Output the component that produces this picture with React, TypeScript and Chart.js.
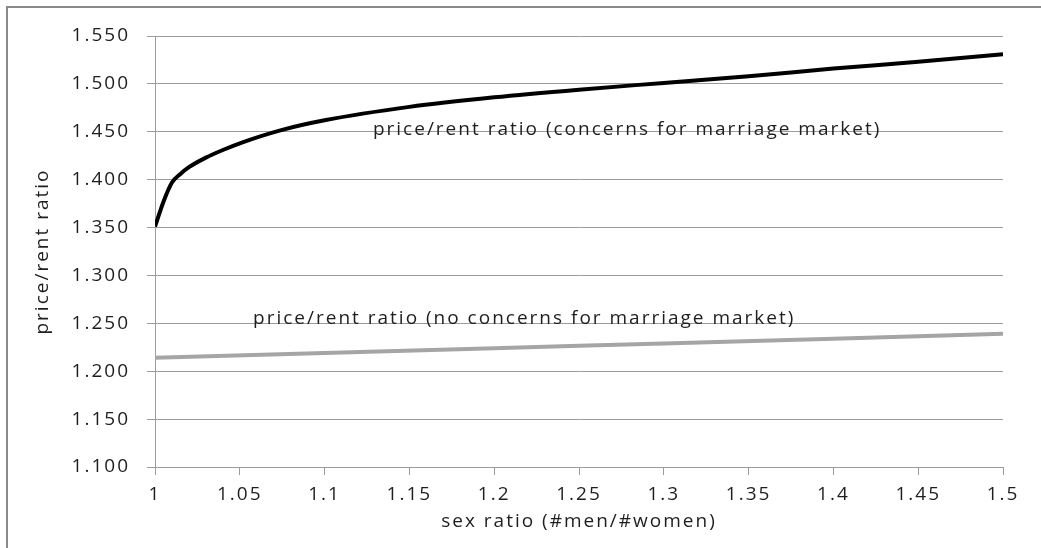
import React, { useEffect, useRef } from "react";
import { Chart, registerables } from "chart.js";

Chart.register(...registerables);

// Sex ratio (#men/#women) and price/rent ratio, with concerns for the marriage market
const concernsX = [1.0, 1.005, 1.01, 1.015, 1.02, 1.03, 1.04, 1.05, 1.075, 1.1, 1.15, 1.2, 1.25, 1.3, 1.35, 1.4, 1.45, 1.5];
const concernsY = [1.351, 1.377, 1.397, 1.406, 1.413, 1.423, 1.431, 1.438, 1.452, 1.462, 1.476, 1.486, 1.494, 1.501, 1.508, 1.516, 1.523, 1.531];

// without concerns for the marriage market
const noConcernsX = [1.0, 1.1, 1.2, 1.3, 1.4, 1.5];
const noConcernsY = [1.214, 1.219, 1.224, 1.229, 1.234, 1.239];

const seriesLabels = [
  "price/rent ratio (concerns for marriage market)",
  "price/rent ratio (no concerns for marriage market)",
];
// annotation anchors (data coordinates: left edge x, baseline y)
const labelAnchorX = [1.1285, 1.0578];
const labelAnchorY = [1.4469, 1.249];

const xTitle = "sex ratio (#men/#women)";
const yTitle = "price/rent ratio";
const xMin = 1.0, xMax = 1.5, xStep = 0.05;
const yMin = 1.1, yMax = 1.55, yStep = 0.05;

const FONT = "'Open Sans'";
const TEXT = "#1e1e1e";
const GRID = "#9c9c9c";

export default function App() {
  const ref = useRef<HTMLCanvasElement>(null);
  useEffect(() => {
    if (!ref.current) return;
    const spacing = {
      id: "spacing",
      beforeUpdate(chart: any) {
        chart.ctx.letterSpacing = "2px";
      },
      beforeDraw(chart: any) {
        const ctx = chart.ctx;
        ctx.letterSpacing = "2px";
        ctx.save();
        ctx.fillStyle = "#8a8a8a";
        ctx.fillRect(6, 6, 2, chart.height);
        ctx.fillRect(6, 6, chart.width, 2);
        ctx.restore();
      },
      afterDatasetsDraw(chart: any) {
        const ctx = chart.ctx;
        const xs = chart.scales.x;
        const ys = chart.scales.y;
        ctx.save();
        ctx.letterSpacing = "2px";
        ctx.font = `19px ${FONT}`;
        ctx.fillStyle = TEXT;
        ctx.textAlign = "left";
        ctx.textBaseline = "alphabetic";
        seriesLabels.forEach((t, i) => {
          ctx.fillText(t, xs.getPixelForValue(labelAnchorX[i]), ys.getPixelForValue(labelAnchorY[i]));
        });
        ctx.restore();
      },
    };
    const chart = new Chart(ref.current, {
      type: "line",
      data: {
        datasets: [
          {
            label: seriesLabels[0],
            data: concernsX.map((x, i) => ({ x, y: concernsY[i] })),
            borderColor: "#000000",
            borderWidth: 4,
            pointRadius: 0,
            cubicInterpolationMode: "monotone",
            fill: false,
          },
          {
            label: seriesLabels[1],
            data: noConcernsX.map((x, i) => ({ x, y: noConcernsY[i] })),
            borderColor: "#a5a5a5",
            borderWidth: 4,
            pointRadius: 0,
            cubicInterpolationMode: "monotone",
            fill: false,
          },
        ],
      },
      options: {
        animation: false,
        responsive: false,
        devicePixelRatio: 1,
        layout: { padding: { left: 0, top: 36, right: 38, bottom: 0 } },
        plugins: { legend: { display: false }, tooltip: { enabled: false } },
        scales: {
          x: {
            type: "linear",
            min: xMin,
            max: xMax,
            afterFit: (s: any) => { s.height = 81; },
            ticks: {
              stepSize: xStep,
              autoSkip: false,
              maxRotation: 0,
              padding: 8,
              color: TEXT,
              font: { family: FONT, size: 19 },
              callback: (v: any) => parseFloat(Number(v).toFixed(2)).toString(),
            },
            grid: { drawOnChartArea: false, drawTicks: true, tickLength: 8, color: GRID },
            border: { color: GRID, width: 1 },
            title: {
              display: true,
              text: xTitle,
              color: TEXT,
              font: { family: FONT, size: 19 },
              padding: { top: 0, bottom: 15 },
            },
          },
          y: {
            type: "linear",
            min: yMin,
            max: yMax,
            afterFit: (s: any) => { s.width = 155; },
            ticks: {
              stepSize: yStep,
              padding: 17,
              color: TEXT,
              font: { family: FONT, size: 19 },
              callback: (v: any) => Number(v).toFixed(3),
            },
            grid: { drawTicks: true, tickLength: 8, color: GRID },
            border: { color: GRID, width: 1 },
            title: {
              display: true,
              text: yTitle,
              color: TEXT,
              font: { family: FONT, size: 19 },
              padding: { top: 31, bottom: 0 },
            },
          },
        },
      },
      plugins: [spacing],
    } as any);
    return () => chart.destroy();
  }, []);
  return (
    <div style={{ position: "fixed", left: 0, top: 0, width: 1041, height: 548, background: "#fff" }}>
      <canvas ref={ref} width={1041} height={548} style={{ width: 1041, height: 548, display: "block" }} />
    </div>
  );
}
